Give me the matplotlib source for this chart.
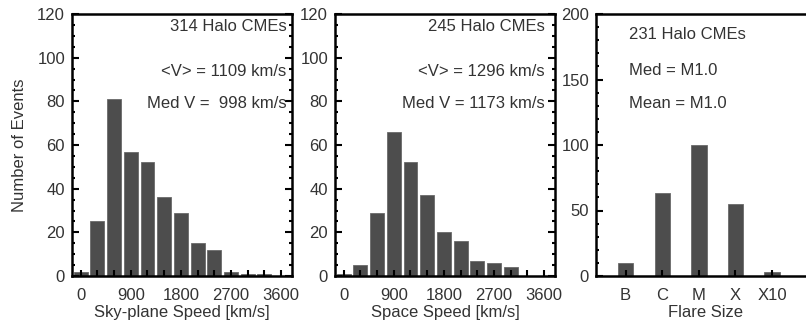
import numpy as np
import matplotlib
matplotlib.use('Agg')
import matplotlib.pyplot as plt
from matplotlib.ticker import MultipleLocator

plt.rcParams['font.family'] = ['Liberation Sans', 'DejaVu Sans']

# sky-plane speed histogram (300 km/s bins)
sky_speed = [0, 300, 600, 900, 1200, 1500, 1800, 2100, 2400, 2700, 3000, 3300]
sky_count = [2, 25, 81, 57, 52, 36, 29, 15, 12, 2, 1, 1]

# space speed histogram
space_speed = [0, 300, 600, 900, 1200, 1500, 1800, 2100, 2400, 2700, 3000]
space_count = [1, 5, 29, 66, 52, 37, 20, 16, 7, 6, 4]

# flare size
flare_class = ['B', 'C', 'M', 'X', 'X10']
flare_count = [10, 63, 100, 55, 3]

speed_ticks = [0, 900, 1800, 2700, 3600]

text_col = '#333333'
bar_col = '#4d4d4d'
W, H = 806, 322
fs_tick = 12
fs_lab = 12
fs_txt = 12


def make_axes(left, right, top=14, bottom=276):
    return fig.add_axes([left / W, (H - bottom) / H, (right - left) / W, (bottom - top) / H])


def style(ax, ymajor, yminor):
    for s in ax.spines.values():
        s.set_linewidth(1.8)
        s.set_color('black')
    ax.yaxis.set_major_locator(MultipleLocator(ymajor))
    ax.yaxis.set_minor_locator(MultipleLocator(yminor))
    ax.tick_params(axis='y', which='both', direction='in', left=True, right=True,
                   labelsize=fs_tick, labelcolor=text_col, width=1.5, pad=5)
    ax.tick_params(axis='y', which='major', length=5)
    ax.tick_params(axis='y', which='minor', length=2.5)
    ax.tick_params(axis='x', which='both', direction='in', top=False,
                   labelsize=fs_tick, labelcolor=text_col, width=1.5, pad=9)


fig = plt.figure(figsize=(W / 100, H / 100), dpi=100)

# panel 1
ax1 = make_axes(72, 292)
ax1.bar(sky_speed, sky_count, width=250, color=bar_col, edgecolor='#6a6a6a', linewidth=0.6)
ax1.set_xlim(-156, 3796)
ax1.set_ylim(0, 120)
style(ax1, 20, 5)
ax1.set_xticks(speed_ticks)
ax1.set_xticks(sky_speed + [3600], minor=True)
ax1.tick_params(axis='x', which='both', length=4)
ax1.set_xlabel('Sky-plane Speed [km/s]', fontsize=fs_lab, color=text_col, labelpad=1)
ax1.set_ylabel('Number of Events', fontsize=fs_lab, color=text_col, labelpad=7)
ax1.text(0.975, 0.954, '314 Halo CMEs', transform=ax1.transAxes, ha='right', va='center',
         fontsize=fs_txt, color=text_col)
ax1.text(0.975, 0.782, '<V> = 1109 km/s', transform=ax1.transAxes, ha='right', va='center',
         fontsize=fs_txt, color=text_col)
ax1.text(0.975, 0.66, 'Med V =  998 km/s', transform=ax1.transAxes, ha='right', va='center',
         fontsize=fs_txt, color=text_col)

# panel 2
ax2 = make_axes(335, 555)
ax2.bar(space_speed, space_count, width=250, color=bar_col, edgecolor='#6a6a6a', linewidth=0.6)
ax2.set_xlim(-156, 3796)
ax2.set_ylim(0, 120)
style(ax2, 20, 5)
ax2.set_xticks(speed_ticks)
ax2.set_xticks(space_speed + [3300, 3600], minor=True)
ax2.tick_params(axis='x', which='both', length=4)
ax2.set_xlabel('Space Speed [km/s]', fontsize=fs_lab, color=text_col, labelpad=1)
ax2.text(0.955, 0.954, '245 Halo CMEs', transform=ax2.transAxes, ha='right', va='center',
         fontsize=fs_txt, color=text_col)
ax2.text(0.955, 0.782, '<V> = 1296 km/s', transform=ax2.transAxes, ha='right', va='center',
         fontsize=fs_txt, color=text_col)
ax2.text(0.955, 0.66, 'Med V = 1173 km/s', transform=ax2.transAxes, ha='right', va='center',
         fontsize=fs_txt, color=text_col)

# panel 3
ax3 = make_axes(596, 816)
x3 = np.arange(len(flare_class))
ax3.bar(x3, flare_count, width=0.42, color=bar_col, edgecolor='#6a6a6a', linewidth=0.6)
ax3.set_xlim(-0.81, 5.2)
ax3.set_ylim(0, 200)
style(ax3, 50, 10)
ax3.set_xticks(x3)
ax3.set_xticklabels(flare_class)
ax3.tick_params(axis='x', which='major', length=4)
ax3.set_xlabel('Flare Size', fontsize=fs_lab, color=text_col, labelpad=1)
ax3.text(0.15, 0.92, '231 Halo CMEs', transform=ax3.transAxes, ha='left', va='center',
         fontsize=fs_txt, color=text_col)
ax3.text(0.15, 0.786, 'Med = M1.0', transform=ax3.transAxes, ha='left', va='center',
         fontsize=fs_txt, color=text_col)
ax3.text(0.15, 0.66, 'Mean = M1.0', transform=ax3.transAxes, ha='left', va='center',
         fontsize=fs_txt, color=text_col)

fig.savefig('out.png', dpi=100)
